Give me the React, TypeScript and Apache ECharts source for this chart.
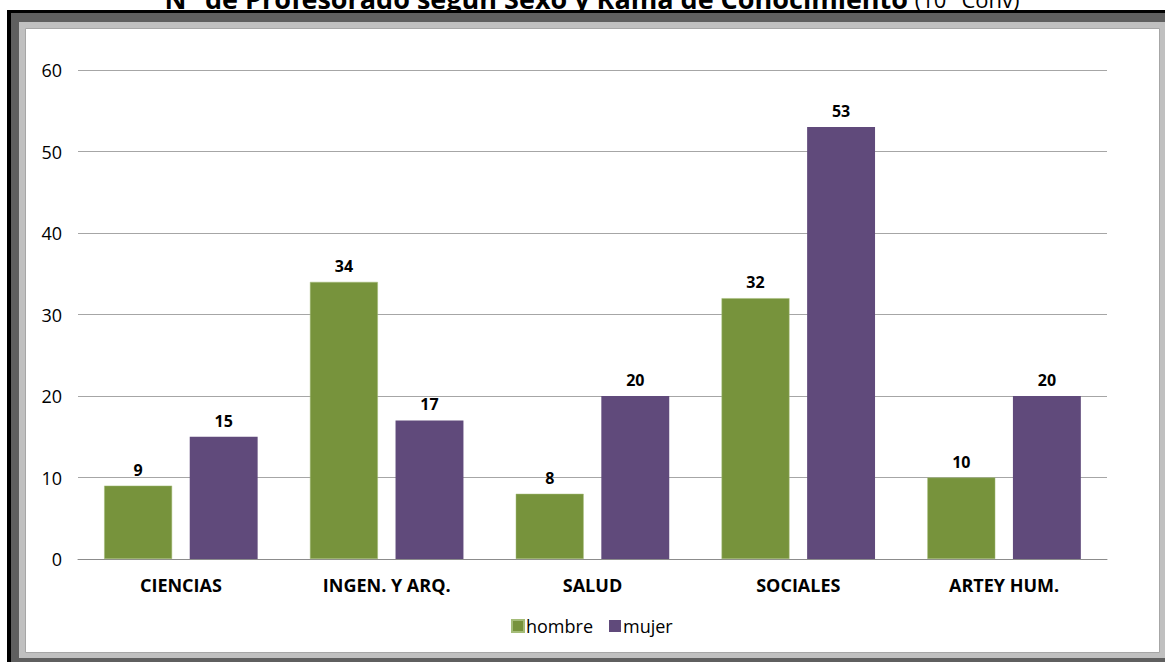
import React, { useEffect, useRef } from "react";
import * as echarts from "echarts";

const categories = ["CIENCIAS", "INGEN. Y ARQ.", "SALUD", "SOCIALES", "ARTEY HUM."];
const hombre = [9, 34, 8, 32, 10];
const mujer = [15, 17, 20, 53, 20];
const seriesNames = ["hombre", "mujer"];
const yTicks = { min: 0, max: 60, interval: 10 };
const titleMain = "N° de Profesorado según Sexo y Rama de Conocimiento";
const titleSub = "(10° Conv)";

export default function App() {
  const ref = useRef<HTMLDivElement>(null);
  useEffect(() => {
    if (!ref.current) return;
    const chart = echarts.init(ref.current, undefined, { renderer: "svg" });
    const font = "'Open Sans', 'Noto Sans', sans-serif";
    const labelStyle = {
      show: true,
      position: "top" as const,
      distance: 8,
      color: "#000",
      fontWeight: "bold" as const,
      fontSize: 16,
      fontFamily: font,
    };
    chart.setOption({
      animation: false,
      textStyle: { fontFamily: font },
      graphic: [
        {
          type: "text",
          z: -20,
          x: 592,
          y: 12,
          style: {
            text: "{a|" + titleMain + "}  {b|" + titleSub + "}",
            align: "center",
            verticalAlign: "bottom",
            rich: {
              a: { fontFamily: font, fontWeight: "bold", fontSize: 27, fill: "#000" },
              b: { fontFamily: font, fontWeight: "normal", fontSize: 22, fill: "#000" },
            },
          },
        },
        { type: "rect", z: -10, shape: { x: 7, y: 10, width: 1200, height: 700 }, style: { fill: "#000" } },
        { type: "rect", z: -9, shape: { x: 11, y: 13, width: 1200, height: 700 }, style: { fill: "#5f5f5f" } },
        { type: "rect", z: -8, shape: { x: 19, y: 22, width: 1160, height: 636 }, style: { fill: "#c0c0c0" } },
        { type: "rect", z: -7, shape: { x: 25.5, y: 28.5, width: 1134, height: 624 }, style: { fill: "#fff", stroke: "#a6a6a6", lineWidth: 1 } },
      ],
      legend: {
        bottom: 22,
        left: 506,
        itemWidth: 12,
        itemHeight: 12,
        itemGap: 16,
        icon: "rect",
        textStyle: { fontSize: 18, color: "#000", fontFamily: font, padding: [0, 0, 0, -3] },
        data: seriesNames,
      },
      grid: { left: 78, right: 58, top: 70, bottom: 103 },
      xAxis: {
        type: "category",
        data: categories,
        axisLine: { lineStyle: { color: "#8c8c8c", width: 1 } },
        axisTick: { show: false },
        axisLabel: { color: "#000", fontWeight: "bold", fontSize: 18, margin: 17, fontFamily: font },
      },
      yAxis: {
        type: "value",
        min: yTicks.min,
        max: yTicks.max,
        interval: yTicks.interval,
        axisLine: { show: false },
        axisTick: { show: false },
        axisLabel: { color: "#000", fontSize: 18, margin: 16, fontFamily: font },
        splitLine: { lineStyle: { color: "#a6a6a6", width: 1 } },
      },
      series: [
        {
          name: seriesNames[0],
          type: "bar",
          data: hombre,
          barWidth: "33%",
          barGap: "26%",
          itemStyle: { color: "#77933c", borderColor: "#a4bc78", borderWidth: 0.5 },
          label: labelStyle,
        },
        {
          name: seriesNames[1],
          type: "bar",
          data: mujer,
          barWidth: "33%",
          itemStyle: { color: "#604a7b" },
          label: labelStyle,
        },
      ],
    });
    return () => chart.dispose();
  }, []);
  return (
    <div
      ref={ref}
      style={{ position: "fixed", left: 0, top: 0, width: 1165, height: 662, background: "#fff" }}
    />
  );
}
